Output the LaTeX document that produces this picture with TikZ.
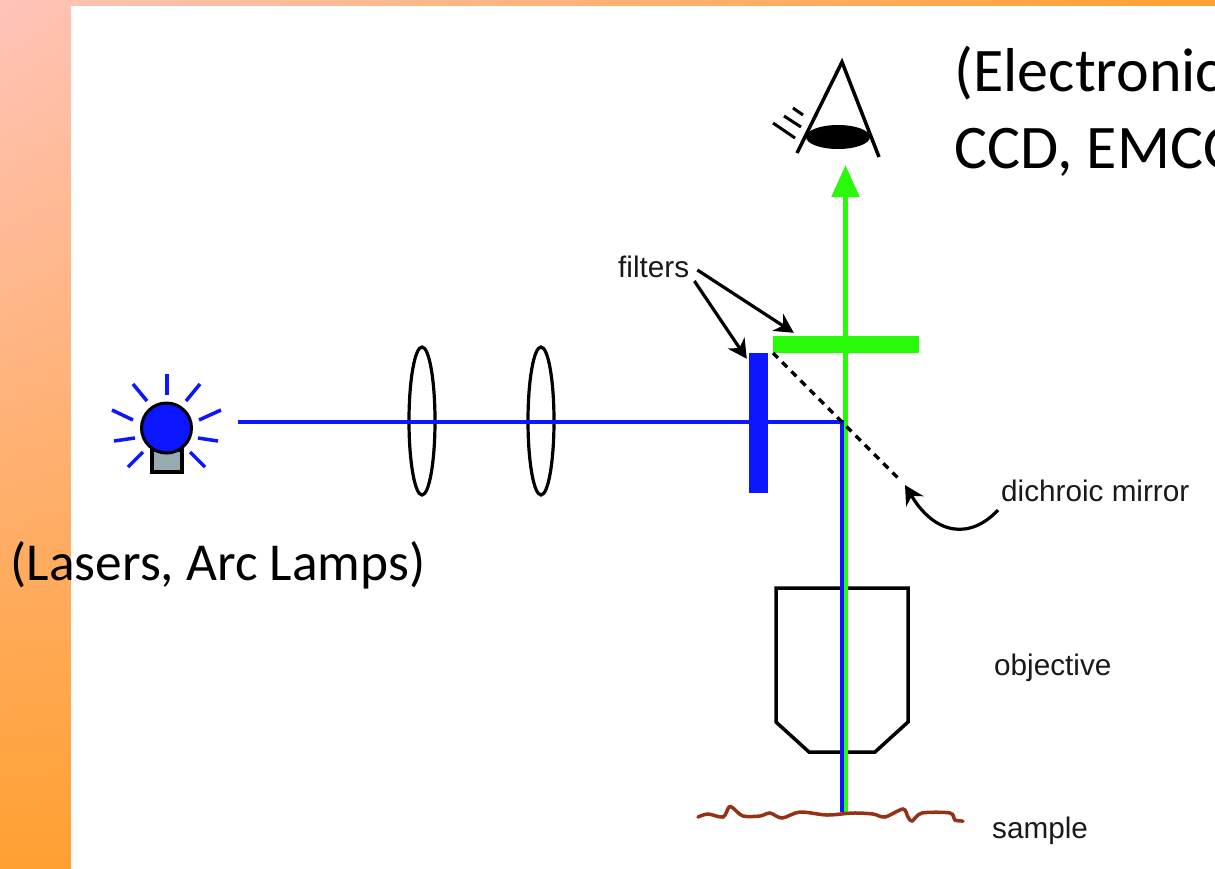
\documentclass[tikz,border=0pt]{standalone}
\usepackage{fontspec}
\setmainfont{Carlito}
\newfontfamily\labelfont{Liberation Sans}
\usetikzlibrary{arrows.meta, calc, shadings, shapes.geometric}
\begin{document}
\begin{tikzpicture}[
    x=1pt, y=-1pt,
    slidetext/.style={font=\fontsize{53.4}{60}\selectfont, anchor=base west, inner sep=0pt},
    detectortext/.style={font=\fontsize{62}{70}\selectfont, anchor=base west, inner sep=0pt},
    partlabel/.style={font=\labelfont\fontsize{29.7}{34}\selectfont, text=black!90, anchor=west, inner sep=0pt},
    lens/.style={ellipse, draw=black, line width=3.2pt, inner sep=0pt, minimum width=26pt, minimum height=148pt},
    ray/.style={draw=c3, line width=3.5pt},
    pointer/.style={draw=black, line width=3.2pt, -{Stealth[length=19pt,width=20pt,inset=6pt]}},
    optic/.style={draw=black, line width=3.5pt}
]
\definecolor{c1}{RGB}{255,195,185}
\definecolor{c2}{RGB}{255,160,50}
\definecolor{c3}{RGB}{12,22,255}
\definecolor{c4}{RGB}{40,250,10}
\definecolor{c5}{RGB}{150,170,175}
\definecolor{c6}{RGB}{150,50,20}

\useasboundingbox (0,0) rectangle (1215,868);
\clip (0,0) rectangle (1215,868);
\shade[upper left=c1, lower left=c2, upper right=c2, lower right=c2] (0,0) rectangle (1215,868);
\fill[white] (71,6) rectangle (1220,875);

\coordinate (beamstart) at (238,421.5);
\coordinate (beamcorner) at (841.5,421.5);
\coordinate (beamend) at (841.5,812);
\coordinate (greenstart) at (845.5,812);
\coordinate (greentip) at (845.5,165);
\coordinate (mirrortop) at (773,353);
\coordinate (mirrorend) at (899,479);

\node[lens] (lensa) at (422,421) {};
\node[lens] (lensb) at (541,421) {};

\draw[optic, fill=white] (776,588) -- (908,588) -- (908,722) -- (875,752) -- (809,752) -- (776,722) -- cycle;

\draw[draw=c4, line width=5.5pt, -{Triangle[length=32pt,width=27pt]}] (greenstart) -- (greentip);
\draw[ray, line width=4pt, line join=miter] (beamstart) -- (beamcorner) -- (beamend);

\node[fill=c3, minimum width=19pt, minimum height=140pt, inner sep=0pt] (bluefilter) at (758.5,423) {};
\node[fill=c4, minimum width=146pt, minimum height=17pt, inner sep=0pt] (greenfilter) at (846,344.5) {};

\draw[black, line width=3.5pt, dash pattern=on 7pt off 6pt] (mirrortop) -- (mirrorend);

\fill[c5, draw=black, line width=4pt] (151.5,450) rectangle (182,471.5);
\node[circle, fill=c3, draw=black, line width=3pt, minimum size=50pt, inner sep=0pt] (bulb) at (166.5,428) {};
\foreach \xa/\ya/\xb/\yb in {167/374/167/395, 200/384/186/401, 221/410/199/420, 218/441/198/438, 205/467/190/452, 133/384/147/401, 112/410/133/420, 114/441/135/438, 128/467/143/452}
    \draw[ray] (\xa,\ya) -- (\xb,\yb);

\draw[black, line width=3.5pt, line join=miter] (797,153) -- (842,62) -- (879,157);
\node[ellipse, fill=black, minimum width=64pt, minimum height=24pt, inner sep=0pt] (pupil) at (838,137) {};
\foreach \xa/\ya/\xb/\yb in {773/123/795/138, 784/116/801/127, 793/108/803/115}
    \draw[black, line width=3pt] (\xa,\ya) -- (\xb,\yb);

\draw[c6, line width=3.5pt, line cap=round] plot[smooth, tension=0.5] coordinates {(698,817) (708,814) (723,817) (729,807) (733,808) (743,816) (760,816) (770,813) (782,818) (800,812) (827,815) (853,813) (873,814) (885,817) (903,809) (908,817) (912,821) (922,813) (950,813) (955,820) (963,821)};

\node[slidetext] (source) at (10.5,580) {(Lasers, Arc Lamps)};
\node[detectortext] (detectora) at (954.5,91) {(Electronic};
\node[detectortext] (detectorb) at (954.5,168) {CCD, EMCC};

\node[partlabel] (filters) at (618,267) {filters};
\node[partlabel] (dichroic) at (1001,491) {dichroic mirror};
\node[partlabel] (objective) at (994,668) {objective};
\node[partlabel] (sample) at (992,831) {sample};

\draw[pointer] ($(filters.east)+(8,3)$) -- ($(greenfilter.north west)+(21,-3)$);
\draw[pointer] ($(filters.east)+(5,14)$) -- ($(bluefilter.north west)+(-2,6)$);
\draw[pointer] ($(dichroic.west)+(-3,19)$) .. controls (970,540) and (935,535) .. (905,485);
\end{tikzpicture}
\end{document}
